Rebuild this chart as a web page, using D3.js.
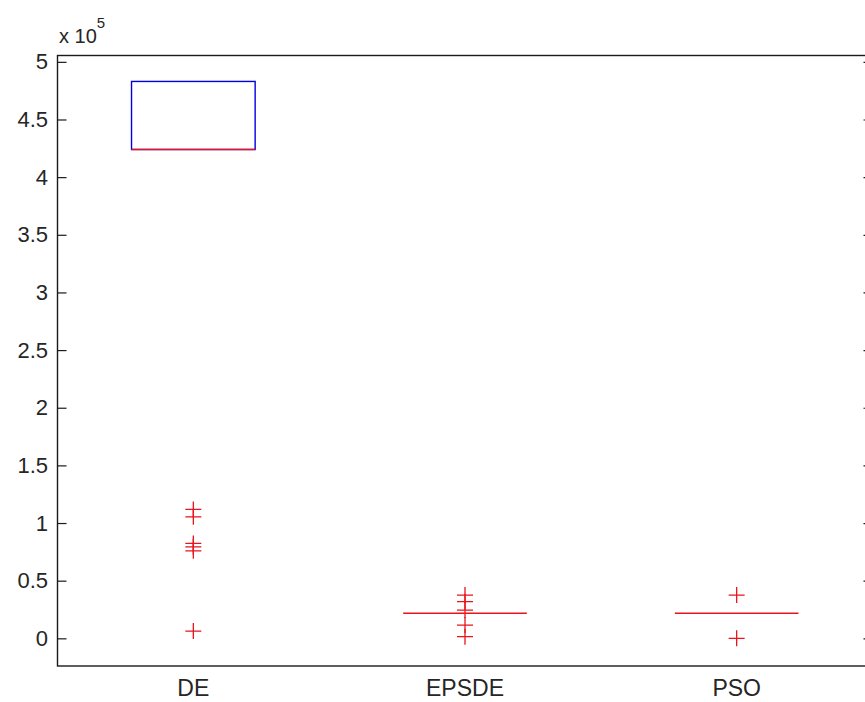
<!DOCTYPE html>
<html>
<head>
<meta charset="utf-8">
<script src="https://cdn.jsdelivr.net/npm/d3@7"></script>
<style>
  body { margin: 0; background: #fff; }
  svg { display: block; font-family: "Liberation Sans", Arial, sans-serif; }
</style>
</head>
<body>
<svg id="chart"></svg>
<script>
// values in units of 1e5
const categories = ['DE', 'EPSDE', 'PSO'];
const q1Values = [4.24, 0.217, 0.217];
const q3Values = [4.83, 0.217, 0.217];
const medianValues = [4.24, 0.217, 0.217];
const outliersDE = [1.118, 1.054, 0.823, 0.794, 0.759, 0.063];
const outliersEPSDE = [0.375, 0.318, 0.245, 0.115, 0.014];
const outliersPSO = [0.375, 0.0];
const yTicks = [0, 0.5, 1, 1.5, 2, 2.5, 3, 3.5, 4, 4.5, 5];
const yTickLabels = ['0', '0.5', '1', '1.5', '2', '2.5', '3', '3.5', '4', '4.5', '5'];

const outliers = [outliersDE, outliersEPSDE, outliersPSO];

const width = 865, height = 702;
const plotLeft = 57.5, plotRight = 872.5, plotTop = 55.5, plotBottom = 666;
const boxWidth = 0.455;
const arm = 8;

const svg = d3.select('#chart').attr('width', width).attr('height', height);

const x = d3.scaleLinear().domain([0.5, 3.5]).range([plotLeft, plotRight]);
const y = d3.scaleLinear().domain([-0.24, 5.055]).range([plotBottom, plotTop]);

// frame
svg.append('rect')
  .attr('x', plotLeft).attr('y', plotTop)
  .attr('width', plotRight - plotLeft).attr('height', plotBottom - plotTop)
  .attr('fill', 'none').attr('stroke', '#1a1a1a').attr('stroke-width', 1.4);

// left axis
const yAxis = svg.append('g')
  .attr('transform', `translate(${plotLeft},0)`)
  .call(d3.axisLeft(y).tickValues(yTicks).tickFormat((d, i) => yTickLabels[i])
    .tickSizeInner(-9).tickSizeOuter(0).tickPadding(9.5));
yAxis.select('.domain').remove();
yAxis.selectAll('line').attr('stroke', '#1a1a1a').attr('stroke-width', 1.2);
yAxis.selectAll('text').attr('fill', '#262626').style('font-size', '22px');

// right axis ticks
const yAxisR = svg.append('g')
  .attr('transform', `translate(${plotRight},0)`)
  .call(d3.axisRight(y).tickValues(yTicks).tickFormat('').tickSizeInner(-9).tickSizeOuter(0));
yAxisR.select('.domain').remove();
yAxisR.selectAll('line').attr('stroke', '#1a1a1a').attr('stroke-width', 1.2);

// x labels
svg.append('g').selectAll('text')
  .data(categories)
  .enter()
  .append('text')
  .attr('x', (d, i) => x(i + 1))
  .attr('y', 696)
  .attr('text-anchor', 'middle')
  .attr('fill', '#262626')
  .style('font-size', '23px')
  .text(d => d);

// exponent label
const expo = svg.append('text').attr('x', 59).attr('y', 43).attr('fill', '#262626');
expo.append('tspan').style('font-size', '20px').text('x 10');
expo.append('tspan').attr('dy', -15).style('font-size', '15px').text('5');

// boxes
const g = svg.append('g');
categories.forEach((c, i) => {
  const x0 = x(i + 1 - boxWidth / 2), x1 = x(i + 1 + boxWidth / 2);
  if (q3Values[i] > q1Values[i]) {
    g.append('rect')
      .attr('x', x0).attr('y', y(q3Values[i]))
      .attr('width', x1 - x0).attr('height', y(q1Values[i]) - y(q3Values[i]))
      .attr('fill', 'none').attr('stroke', '#0000e0').attr('stroke-width', 1.4);
  }
  g.append('line')
    .attr('x1', x0).attr('x2', x1)
    .attr('y1', y(medianValues[i])).attr('y2', y(medianValues[i]))
    .attr('stroke', '#e8141c').attr('stroke-width', 1.5);

  outliers[i].forEach(v => {
    const cx = x(i + 1), cy = y(v);
    g.append('path')
      .attr('d', `M${cx - arm},${cy}H${cx + arm}M${cx},${cy - arm}V${cy + arm}`)
      .attr('stroke', '#e8141c').attr('stroke-width', 1.3).attr('fill', 'none');
  });
});
</script>
</body>
</html>
